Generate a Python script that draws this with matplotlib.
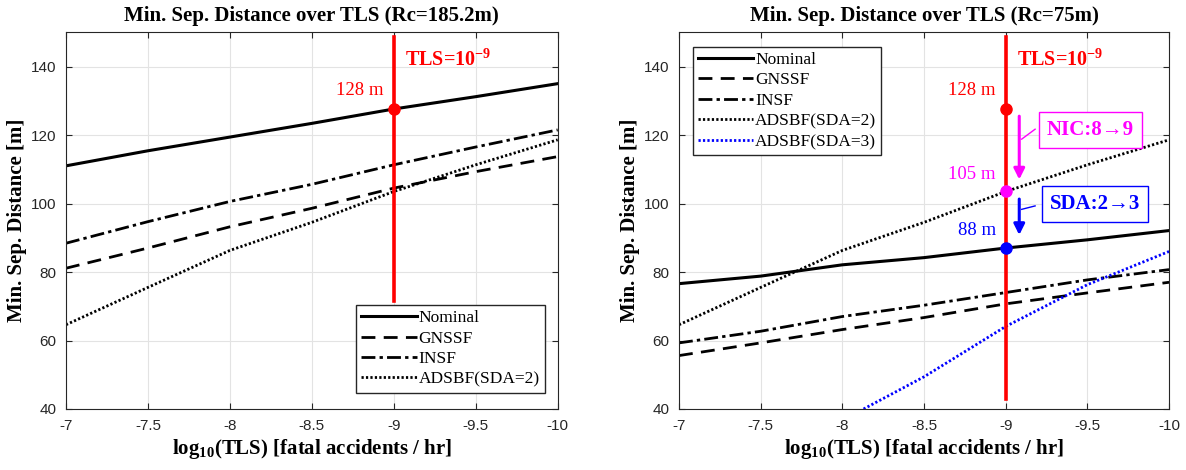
import matplotlib
matplotlib.use("Agg")
import matplotlib.pyplot as plt

# log10(TLS) sample points
tls = [-7, -7.5, -8, -8.5, -9, -9.5, -10]

# Rc = 185.2 m
nominal_185 = [111.0, 115.4, 119.4, 123.4, 127.6, 131.2, 135.0]
gnssf_185 = [81.1, 87.0, 93.2, 98.6, 104.5, 109.3, 113.7]
insf_185 = [88.4, 94.7, 100.6, 105.6, 111.3, 116.5, 121.5]
adsbf2 = [64.6, 75.5, 86.3, 94.5, 103.5, 111.3, 118.6]

# Rc = 75 m
nominal_75 = [76.6, 78.8, 82.1, 84.2, 87.0, 89.4, 92.1]
gnssf_75 = [55.6, 59.3, 63.2, 66.7, 70.7, 73.9, 77.0]
insf_75 = [59.3, 62.7, 67.0, 70.3, 74.0, 77.7, 80.7]
tls_sda3 = [-8.13, -8.5, -9, -9.5, -10]
adsbf3_75 = [40.0, 49.4, 64.1, 76.3, 86.0]

tls_req = -9
val_128 = 127.6
val_105 = 103.7
val_88 = 87.0

plt.rcParams["axes.unicode_minus"] = False
plt.rcParams["mathtext.fontset"] = "custom"
plt.rcParams["mathtext.rm"] = "Liberation Serif"
plt.rcParams["mathtext.bf"] = "Liberation Serif:bold"

serif = ["Liberation Serif", "DejaVu Serif"]
sans = "Liberation Sans"


def style_axes(ax, title):
    ax.set_xlim(-7, -10)
    ax.set_ylim(40, 150)
    ax.set_xticks(tls)
    ax.set_xticklabels(["-7", "-7.5", "-8", "-8.5", "-9", "-9.5", "-10"])
    ax.set_yticks([40, 60, 80, 100, 120, 140])
    ax.grid(True, color="#e3e3e3", lw=0.8)
    ax.set_axisbelow(True)
    ax.tick_params(direction="in", length=4, labelsize=11, colors="#262626",
                   top=True, right=True, pad=7)
    for lab in ax.get_xticklabels() + ax.get_yticklabels():
        lab.set_fontfamily(sans)
    for s in ax.spines.values():
        s.set_color("#262626")
        s.set_linewidth(0.8)
    ax.set_title(title, fontsize=15, fontweight="bold", family=serif, pad=8)
    ax.set_xlabel(r"log$_{\mathbf{10}}$(TLS) [fatal accidents / hr]", fontsize=15,
                  fontweight="bold", family=serif, labelpad=3)
    ax.set_ylabel("Min. Sep. Distance [m]", fontsize=15, fontweight="bold",
                  family=serif, labelpad=3)


fig = plt.figure(figsize=(11.86, 4.70), dpi=100)
ax1 = fig.add_axes([0.0556, 0.1298, 0.4146, 0.8015])
ax2 = fig.add_axes([0.5725, 0.1298, 0.4132, 0.8015])

# ---- left: Rc = 185.2 m
ax1.plot(tls, nominal_185, "k-", lw=2.2, label="Nominal")
ax1.plot(tls, gnssf_185, "k--", lw=2, dashes=(5, 3), label="GNSSF")
ax1.plot(tls, insf_185, "k-.", lw=2, dashes=(5, 1.5, 1.2, 1.5), label="INSF")
ax1.plot(tls, adsbf2, "k:", lw=2, dashes=(0.8, 0.8), label="ADSBF(SDA=2)")
ax1.plot([tls_req, tls_req], [148.5, 71.5], color="red", lw=2.6)
ax1.plot(tls_req, val_128, "o", color="red", ms=8)
ax1.text(-9.07, 142, r"TLS=10$^{\mathbf{-9}}$", color="red", fontsize=14.5,
         fontweight="bold", family=serif, va="center", ha="left")
ax1.text(-8.94, 133, "128 m", color="red", fontsize=13.5, family=serif,
         ha="right", va="center")
style_axes(ax1, "Min. Sep. Distance over TLS (Rc=185.2m)")
ax1.legend(loc="lower right", prop={"family": serif, "size": 12.5},
           handlelength=3.2, handletextpad=0.1, borderpad=0.3, labelspacing=0.25,
           fancybox=False, edgecolor="#262626", framealpha=1,
           bbox_to_anchor=(0.992, 0.02))

# ---- right: Rc = 75 m
ax2.plot(tls, nominal_75, "k-", lw=2.2, label="Nominal")
ax2.plot(tls, gnssf_75, "k--", lw=2, dashes=(5, 3), label="GNSSF")
ax2.plot(tls, insf_75, "k-.", lw=2, dashes=(5, 1.5, 1.2, 1.5), label="INSF")
ax2.plot(tls, adsbf2, "k:", lw=2, dashes=(0.8, 0.8), label="ADSBF(SDA=2)")
ax2.plot(tls_sda3, adsbf3_75, ":", color="blue", lw=2, dashes=(0.8, 0.8),
         label="ADSBF(SDA=3)")
ax2.plot([tls_req, tls_req], [148.5, 43], color="red", lw=2.6)
ax2.plot(tls_req, val_128, "o", color="red", ms=8)
ax2.plot(tls_req, val_105, "o", color="magenta", ms=8)
ax2.plot(tls_req, val_88, "o", color="blue", ms=8)
ax2.text(-9.07, 142, r"TLS=10$^{\mathbf{-9}}$", color="red", fontsize=14.5,
         fontweight="bold", family=serif, va="center", ha="left")
ax2.text(-8.94, 133, "128 m", color="red", fontsize=13.5, family=serif,
         ha="right", va="center")
ax2.text(-8.94, 108.6, "105 m", color="magenta", fontsize=13.5, family=serif,
         ha="right", va="center")
ax2.text(-8.94, 92.0, "88 m", color="blue", fontsize=13.5, family=serif,
         ha="right", va="center")

# NIC arrow + box
ax2.annotate("", xy=(-9.083, 107), xytext=(-9.083, 125.5),
             arrowprops=dict(arrowstyle="-|>", color="magenta", lw=2.2,
                             mutation_scale=16, shrinkA=0, shrinkB=0))
ax2.plot([-9.098, -9.18], [118.8, 121.7], color="magenta", lw=1)
ax2.text(-9.52, 121.5, "NIC:8→9", color="magenta", fontsize=15, fontweight="bold",
         family=serif, ha="center", va="center",
         bbox=dict(boxstyle="square,pad=0.38", fc="white", ec="magenta", lw=1))

# SDA arrow + box
ax2.annotate("", xy=(-9.083, 90.8), xytext=(-9.083, 101.3),
             arrowprops=dict(arrowstyle="-|>", color="blue", lw=2.2,
                             mutation_scale=16, shrinkA=0, shrinkB=0))
ax2.plot([-9.098, -9.18], [98.3, 99.3], color="blue", lw=1)
ax2.text(-9.545, 99.8, "SDA:2→3", color="blue", fontsize=15, fontweight="bold",
         family=serif, ha="center", va="center",
         bbox=dict(boxstyle="square,pad=0.38", fc="white", ec="blue", lw=1))

style_axes(ax2, "Min. Sep. Distance over TLS (Rc=75m)")
ax2.legend(loc="upper left", prop={"family": serif, "size": 12.5},
           handlelength=3.2, handletextpad=0.1, borderpad=0.3, labelspacing=0.25,
           fancybox=False, edgecolor="#262626", framealpha=1,
           bbox_to_anchor=(0.01, 0.985))

fig.savefig("out.png", dpi=100)
